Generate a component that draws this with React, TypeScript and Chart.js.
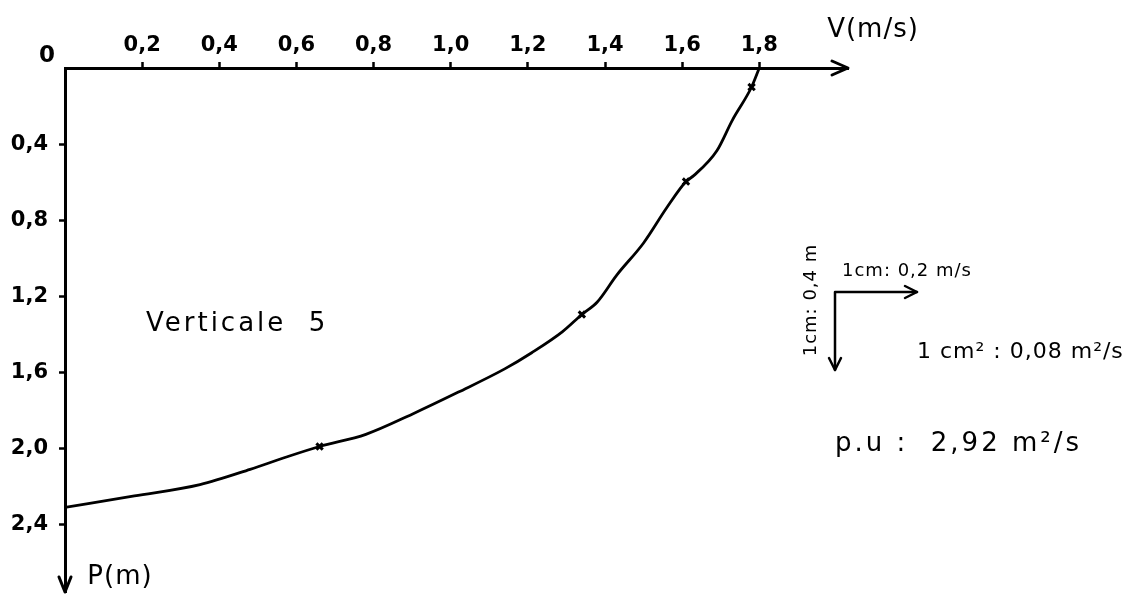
import React, { useEffect, useRef } from "react";
import { Chart, registerables } from "chart.js";

Chart.register(...registerables);

// Velocity profile (Verticale 5): V (m/s) against depth P (m)
const V_VALUES = [1.8, 1.78, 1.73, 1.69, 1.63, 1.61, 1.56, 1.5, 1.43, 1.38, 1.34, 1.29, 1.21, 1.14, 1.02, 0.9, 0.78, 0.66, 0.57, 0.48, 0.35, 0.18, 0];
const P_VALUES = [0, 0.1, 0.275, 0.435, 0.566, 0.597, 0.735, 0.92, 1.09, 1.23, 1.296, 1.386, 1.497, 1.582, 1.704, 1.82, 1.926, 1.99, 2.048, 2.11, 2.19, 2.25, 2.31];
// measured points marked on the curve
const MARK_V = [1.78, 1.61, 1.34, 0.66];
const MARK_P = [0.1, 0.597, 1.296, 1.99];
const X_TICKS = [0.2, 0.4, 0.6, 0.8, 1.0, 1.2, 1.4, 1.6, 1.8];
const Y_TICKS = [0.4, 0.8, 1.2, 1.6, 2.0, 2.4];
const X_MAX = 2.03;
const Y_MAX = 2.755;
const X_TITLE = "V(m/s)";
const Y_TITLE = "P(m)";
const CURVE_LABEL = "Verticale  5";
const SCALE_V = "1cm: 0,4 m";
const SCALE_H = "1cm: 0,2 m/s";
const SCALE_AREA = "1 cm² : 0,08 m²/s";
const RESULT = "p.u :  2,92 m²/s";

const FONT = "'DejaVu Sans', sans-serif";
const fmt = (v: number) => v.toFixed(1).replace(".", ",");

function text(ctx: any, s: string, x: number, y: number, font: string, spacing: number, align: CanvasTextAlign) {
  ctx.font = font;
  ctx.letterSpacing = `${spacing}px`;
  ctx.textAlign = align;
  ctx.fillText(s, x, y);
  ctx.letterSpacing = "0px";
}

const decorPlugin = {
  id: "decor",
  afterDraw(chart: any) {
    const ctx: CanvasRenderingContext2D = chart.ctx;
    const xs = chart.scales.x;
    const ys = chart.scales.y;
    const ox = xs.getPixelForValue(0);
    const oy = ys.getPixelForValue(0);
    const xe = xs.getPixelForValue(X_MAX);
    const ye = ys.getPixelForValue(Y_MAX);
    ctx.save();
    ctx.strokeStyle = "#000";
    ctx.fillStyle = "#000";
    ctx.lineWidth = 3;
    ctx.lineCap = "round";
    ctx.lineJoin = "round";
    // arrowheads of the axes
    ctx.beginPath();
    ctx.moveTo(xe - 16, oy - 7);
    ctx.lineTo(xe, oy);
    ctx.lineTo(xe - 16, oy + 7);
    ctx.stroke();
    ctx.beginPath();
    ctx.moveTo(ox - 6, ye - 15);
    ctx.lineTo(ox, ye);
    ctx.lineTo(ox + 6, ye - 15);
    ctx.stroke();

    ctx.textBaseline = "middle";
    text(ctx, "0", ox - 18, oy - 12, `bold 23px ${FONT}`, 0, "center");
    text(ctx, X_TITLE, 873, 30, `26px ${FONT}`, 1, "center");
    text(ctx, Y_TITLE, 120, 577, `26px ${FONT}`, 1, "center");
    text(ctx, CURVE_LABEL, 146, 324, `26px ${FONT}`, 3, "left");

    // scale legend (small axes)
    const cx = 835, cy = 292;
    ctx.lineWidth = 2.5;
    ctx.beginPath();
    ctx.moveTo(917, cy);
    ctx.lineTo(cx, cy);
    ctx.lineTo(cx, 370);
    ctx.stroke();
    ctx.beginPath();
    ctx.moveTo(905, cy - 6);
    ctx.lineTo(917, cy);
    ctx.lineTo(905, cy + 6);
    ctx.stroke();
    ctx.beginPath();
    ctx.moveTo(cx - 6, 358);
    ctx.lineTo(cx, 370);
    ctx.lineTo(cx + 6, 358);
    ctx.stroke();

    text(ctx, SCALE_H, 842, 271, `18px ${FONT}`, 1, "left");
    ctx.save();
    ctx.translate(811, 300);
    ctx.rotate(-Math.PI / 2);
    text(ctx, SCALE_V, 0, 0, `18px ${FONT}`, 1, "center");
    ctx.restore();

    text(ctx, SCALE_AREA, 917, 352, `22px ${FONT}`, 1, "left");
    text(ctx, RESULT, 835, 444, `26px ${FONT}`, 3, "left");
    ctx.restore();
  },
};

export default function App() {
  const ref = useRef<HTMLCanvasElement | null>(null);
  useEffect(() => {
    if (!ref.current) return;
    const curve = V_VALUES.map((v, i) => ({ x: v, y: P_VALUES[i] }));
    const marks = MARK_V.map((v, i) => ({ x: v, y: MARK_P[i] }));
    const chart = new Chart(ref.current, {
      type: "scatter",
      data: {
        datasets: [
          {
            data: curve,
            showLine: true,
            borderColor: "#000",
            borderWidth: 2.8,
            pointRadius: 0,
            cubicInterpolationMode: "monotone",
            fill: false,
          },
          {
            data: marks,
            showLine: false,
            pointStyle: "crossRot",
            pointRadius: 4.5,
            borderColor: "#000",
            borderWidth: 3,
            backgroundColor: "#000",
          },
        ],
      },
      options: {
        animation: false,
        responsive: false,
        events: [],
        layout: { autoPadding: false, padding: { top: 0, left: 0, right: 282, bottom: 4 } },
        plugins: { legend: { display: false }, tooltip: { enabled: false } },
        scales: {
          x: {
            type: "linear",
            position: "top",
            min: 0,
            max: X_MAX,
            afterBuildTicks: (s: any) => {
              s.ticks = X_TICKS.map((v) => ({ value: v }));
            },
            afterFit: (s: any) => {
              s.height = 68;
              s.paddingLeft = 0;
              s.paddingRight = 0;
            },
            ticks: {
              callback: (v: any) => fmt(Number(v)),
              color: "#000",
              font: { family: FONT, size: 21, weight: "bold" },
              padding: 4,
              maxRotation: 0,
              autoSkip: false,
            },
            grid: { drawOnChartArea: false, drawTicks: true, tickLength: 6, tickColor: "#000", tickWidth: 2.5 },
            border: { display: true, color: "#000", width: 3 },
          },
          y: {
            type: "linear",
            position: "left",
            reverse: true,
            min: 0,
            max: Y_MAX,
            afterBuildTicks: (s: any) => {
              s.ticks = Y_TICKS.map((v) => ({ value: v }));
            },
            afterFit: (s: any) => {
              s.width = 65;
              s.paddingTop = 0;
              s.paddingBottom = 0;
            },
            ticks: {
              callback: (v: any) => fmt(Number(v)),
              color: "#000",
              font: { family: FONT, size: 21, weight: "bold" },
              padding: 11,
              autoSkip: false,
            },
            grid: { drawOnChartArea: false, drawTicks: true, tickLength: 6, tickColor: "#000", tickWidth: 2.5 },
            border: { display: true, color: "#000", width: 3 },
          },
        },
      },
      plugins: [decorPlugin],
    });
    return () => chart.destroy();
  }, []);
  return (
    <div style={{ position: "fixed", left: 0, top: 0, width: 1130, height: 596, background: "#fff" }}>
      <canvas ref={ref} width={1130} height={596} style={{ display: "block" }} />
    </div>
  );
}
